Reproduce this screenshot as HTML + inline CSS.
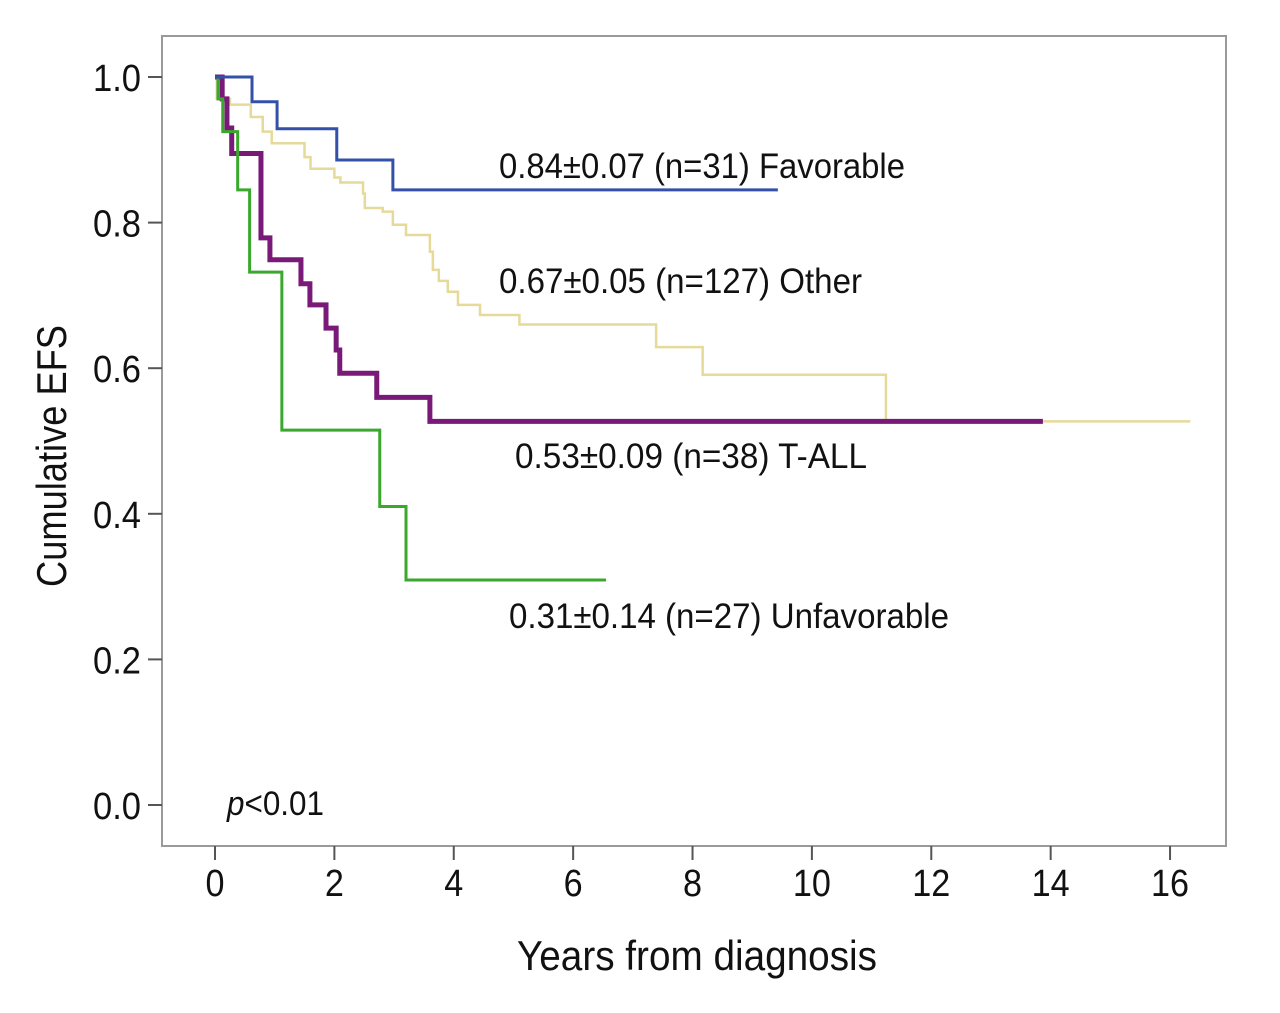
<!DOCTYPE html>
<html><head><meta charset="utf-8"><style>
html,body{margin:0;padding:0;background:#fff;}
svg{display:block;font-family:"Liberation Sans",sans-serif;}
</style></head><body>
<svg id="chart" width="1280" height="1013" viewBox="0 0 1280 1013">
<rect x="162" y="36" width="1064" height="810" fill="#fff" stroke="#9a9a9a" stroke-width="2"/>
<g id="axes"></g>
<g id="series"></g>
<text x="697" y="970" font-size="42" text-anchor="middle" textLength="360" lengthAdjust="spacingAndGlyphs" fill="#111">Years from diagnosis</text>
<text transform="translate(66,456) rotate(-90)" font-size="42" text-anchor="middle" textLength="262" lengthAdjust="spacingAndGlyphs" fill="#111">Cumulative EFS</text>
<text x="227" y="815" font-size="34" textLength="97" lengthAdjust="spacingAndGlyphs" fill="#111"><tspan font-style="italic">p</tspan>&lt;0.01</text>
<text x="499" y="178" font-size="35" textLength="406" lengthAdjust="spacingAndGlyphs" fill="#111">0.84±0.07 (n=31) Favorable</text>
<text x="499" y="293" font-size="35" textLength="363" lengthAdjust="spacingAndGlyphs" fill="#111">0.67±0.05 (n=127) Other</text>
<text x="515" y="468" font-size="35" textLength="352" lengthAdjust="spacingAndGlyphs" fill="#111">0.53±0.09 (n=38) T-ALL</text>
<text x="509" y="628" font-size="35" textLength="440" lengthAdjust="spacingAndGlyphs" fill="#111">0.31±0.14 (n=27) Unfavorable</text>
</svg>
<script>
const xTicks = [0,2,4,6,8,10,12,14,16];
const yTicks = [0,0.2,0.4,0.6,0.8,1.0];
const yTickLabels = ["0.0","0.2","0.4","0.6","0.8","1.0"];
const otherT = [0,0.03,0.25,0.6,0.8,0.95,1.5,1.6,2.0,2.1,2.48,2.51,2.81,2.98,3.2,3.6,3.65,3.75,3.9,4.07,4.44,5.1,7.39,8.17,11.24];
const otherS = [1,0.97,0.962,0.945,0.925,0.909,0.89,0.874,0.862,0.855,0.84,0.82,0.815,0.797,0.783,0.76,0.735,0.72,0.705,0.687,0.673,0.66,0.629,0.591,0.527];
const otherEnd = 16.34;
const tallT = [0,0.12,0.2,0.28,0.77,0.92,1.44,1.59,1.86,2.03,2.09,2.71,3.6];
const tallS = [1,0.97,0.93,0.895,0.779,0.749,0.716,0.687,0.655,0.625,0.593,0.56,0.527];
const tallEnd = 13.87;
const favT = [0,0.62,1.04,2.04,2.98];
const favS = [1,0.966,0.929,0.886,0.845];
const favEnd = 9.43;
const unfT = [0,0.05,0.13,0.38,0.58,1.12,2.76,3.2];
const unfS = [1,0.97,0.925,0.845,0.732,0.515,0.41,0.309];
const unfEnd = 6.55;

const X = t => 215 + t*59.69;
const Y = v => 805 - v*728;
const NS = "http://www.w3.org/2000/svg";
const axes = document.getElementById('axes');
const series = document.getElementById('series');

yTicks.forEach((v,i)=>{
  const l=document.createElementNS(NS,'line');
  l.setAttribute('x1',148);l.setAttribute('x2',162);l.setAttribute('y1',Y(v));l.setAttribute('y2',Y(v));
  l.setAttribute('stroke','#555');l.setAttribute('stroke-width','2');
  
  
  axes.appendChild(l);
  const tx=document.createElementNS(NS,'text');
  tx.setAttribute('x',141);tx.setAttribute('y',Y(v)+14);tx.setAttribute('font-size','38');
  tx.setAttribute('text-anchor','end');tx.setAttribute('fill','#111');
  tx.setAttribute('textLength','48');tx.setAttribute('lengthAdjust','spacingAndGlyphs');
  tx.textContent=yTickLabels[i];
  
  
  axes.appendChild(tx);
});
xTicks.forEach(t=>{
  const l=document.createElementNS(NS,'line');
  l.setAttribute('x1',X(t));l.setAttribute('x2',X(t));l.setAttribute('y1',846);l.setAttribute('y2',860);
  l.setAttribute('stroke','#555');l.setAttribute('stroke-width','2');
  
  
  axes.appendChild(l);
  const tx=document.createElementNS(NS,'text');
  tx.setAttribute('x',X(t));tx.setAttribute('y',896);tx.setAttribute('font-size','38');
  tx.setAttribute('text-anchor','middle');tx.setAttribute('fill','#111');
  tx.setAttribute('textLength', String(t)>9 ? (t>=10?'38':'19') : '19');
  tx.setAttribute('lengthAdjust','spacingAndGlyphs');
  tx.textContent=String(t);
  
  
  axes.appendChild(tx);
});

function stepPath(T,S,end){
  let d='M'+X(T[0])+','+Y(S[0]);
  for(let i=1;i<T.length;i++){ d+=' H'+X(T[i])+' V'+Y(S[i]); }
  d+=' H'+X(end);
  return d;
}
function addSeries(T,S,end,color,w,name){
  const p=document.createElementNS(NS,'path');
  p.setAttribute('d',stepPath(T,S,end));
  p.setAttribute('fill','none');p.setAttribute('stroke',color);p.setAttribute('stroke-width',w);
  
  
  series.appendChild(p);
}
addSeries(otherT,otherS,otherEnd,'#e6da9a',2.5,'line-other');
addSeries(tallT,tallS,tallEnd,'#7a1a78',5,'line-t-all');
addSeries(unfT,unfS,unfEnd,'#3aa82c',3,'line-unfavorable');
addSeries(favT,favS,favEnd,'#3450a8',3,'line-favorable');
</script>
</body></html>
